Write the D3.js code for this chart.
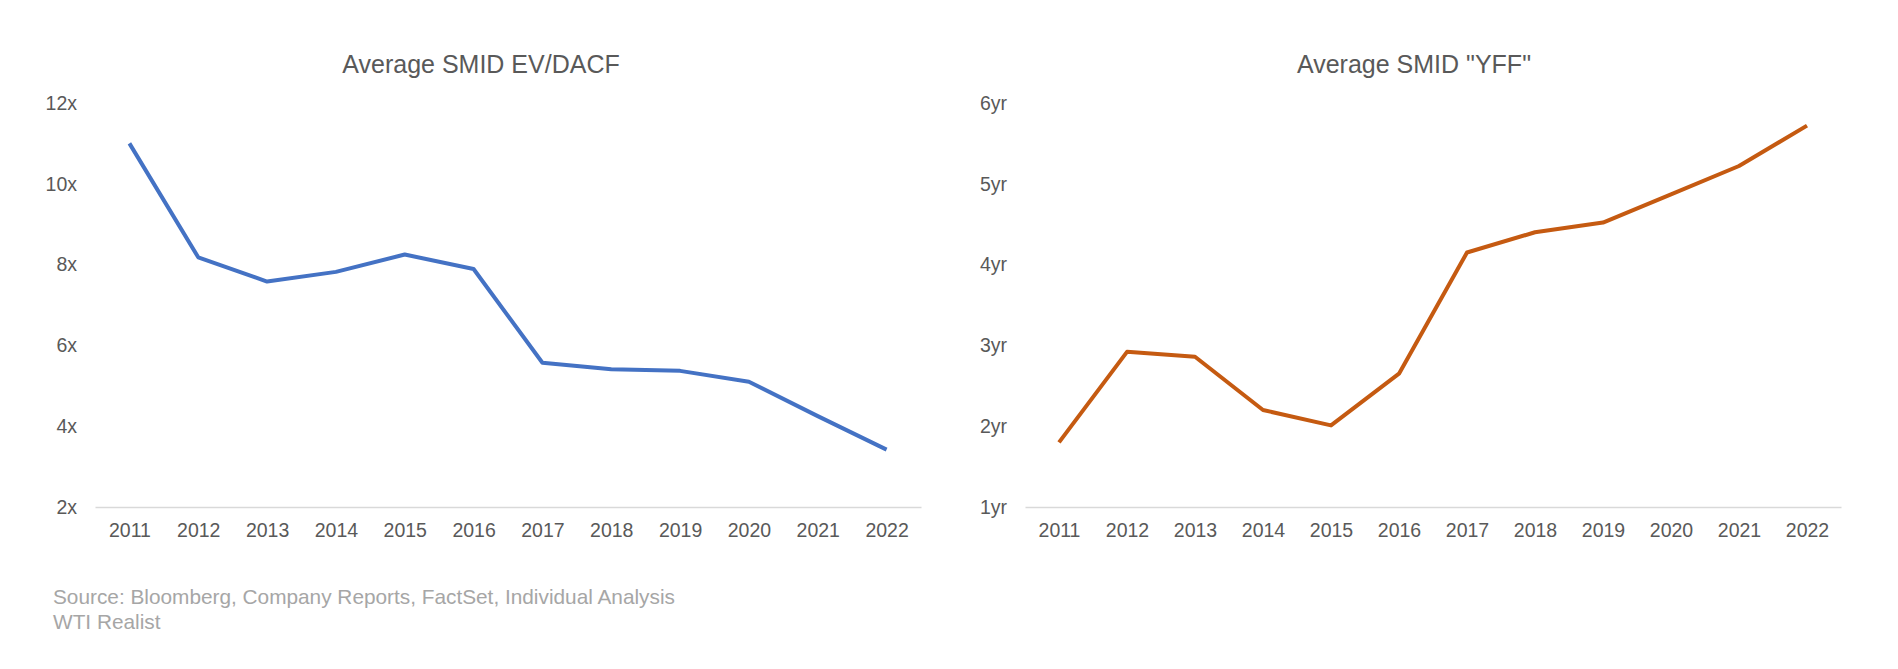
<!DOCTYPE html>
<html>
<head>
<meta charset="utf-8">
<script src="https://cdn.jsdelivr.net/npm/d3@7"></script>
<style>
	body { margin: 0; background: #fff; }
	svg { display: block; font-family: "Liberation Sans", Arial, sans-serif; }
</style>
</head>
<body>
<svg id="chart" width="1898" height="669"></svg>
<script>
var years = ['2011','2012','2013','2014','2015','2016','2017','2018','2019','2020','2021','2022'];
var evDacf = [11.0, 8.18, 7.58, 7.82, 8.25, 7.89, 5.57, 5.41, 5.37, 5.1, 4.25, 3.42];
var yff = [1.8, 2.92, 2.86, 2.2, 2.01, 2.65, 4.15, 4.4, 4.52, 4.87, 5.22, 5.72];
var evTicks = [2, 4, 6, 8, 10, 12];
var yffTicks = [1, 2, 3, 4, 5, 6];

var svg = d3.select('#chart');

function draw_panel(opts) {
	var x = d3.scalePoint().domain(years).range([opts.x0, opts.x1]).padding(0.5);
	var y = d3.scaleLinear().domain(opts.domain).range([507, 103]);
	var g = svg.append('g');

	g.append('text')
		.attr('x', (opts.x0 + opts.x1) / 2 + opts.titleShift)
		.attr('y', 73)
		.attr('text-anchor', 'middle')
		.attr('fill', '#595959')
		.style('font-size', '25px')
		.text(opts.title);

	// y labels, no gridlines
	var ya = g.append('g')
		.attr('transform', 'translate(' + (opts.x0 - 18) + ',0)')
		.call(d3.axisLeft(y).tickValues(opts.ticks).tickSize(0).tickPadding(0).tickFormat(opts.fmt));
	ya.select('.domain').remove();
	ya.selectAll('text').attr('fill', '#595959').style('font-size', '19.5px').attr('font-family', null);

	var xa = g.append('g')
		.attr('transform', 'translate(0,507)')
		.call(d3.axisBottom(x).tickSize(0).tickSizeOuter(0).tickPadding(16));
	xa.select('.domain').attr('stroke', '#d9d9d9').attr('stroke-width', 1.5);
	xa.selectAll('text').attr('fill', '#595959').style('font-size', '19.5px').attr('font-family', null);

	var line = d3.line()
		.x(function(d, i) { return x(years[i]); })
		.y(function(d) { return y(d); });

	g.append('path')
		.datum(opts.values)
		.attr('d', line)
		.attr('fill', 'none')
		.attr('stroke', opts.color)
		.attr('stroke-width', 4)
		.attr('stroke-linejoin', 'round');
}

draw_panel({ x0: 95, x1: 921, domain: [2, 12], ticks: evTicks, values: evDacf,
	color: '#4472C4', title: 'Average SMID EV/DACF', titleShift: -27,
	fmt: function(d) { return d + 'x'; } });

draw_panel({ x0: 1025, x1: 1841, domain: [1, 6], ticks: yffTicks, values: yff,
	color: '#C55A11', title: 'Average SMID "YFF"', titleShift: -19,
	fmt: function(d) { return d + 'yr'; } });

svg.append('text').attr('x', 53).attr('y', 604).attr('fill', '#a6a6a6').style('font-size', '20.8px')
	.text('Source: Bloomberg, Company Reports, FactSet, Individual Analysis');
svg.append('text').attr('x', 53).attr('y', 629).attr('fill', '#a6a6a6').style('font-size', '20.8px')
	.text('WTI Realist');
</script>
</body>
</html>
